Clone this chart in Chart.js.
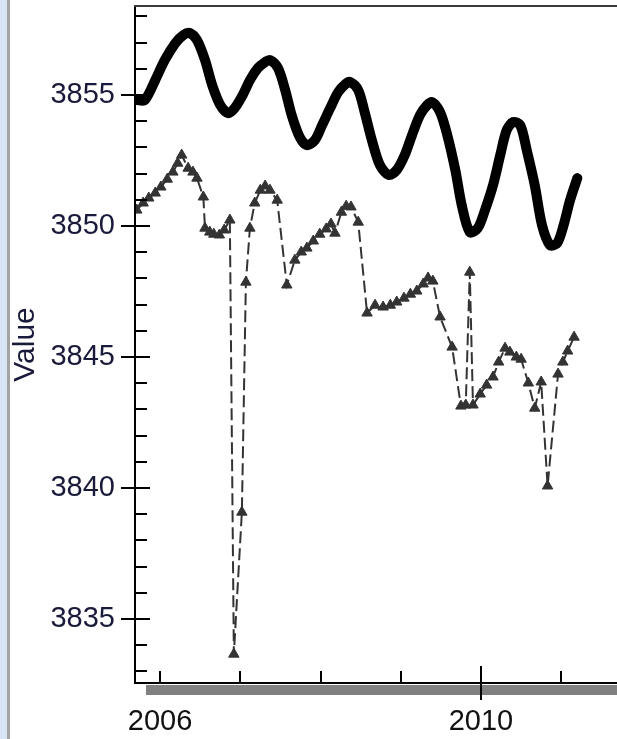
<!DOCTYPE html>
<html>
<head>
<meta charset="utf-8">
<script src="https://cdn.jsdelivr.net/npm/chart.js@4"></script>
<style>
  html, body { margin: 0; padding: 0; background: #ffffff; overflow: hidden; }
  #wrap { position: relative; width: 617px; height: 739px; }
  #strip { position: absolute; left: 0; top: 0; width: 7px; height: 739px; background: #d8e5f4; }
  #edge { position: absolute; left: 7px; top: 0; width: 3px; height: 739px; background: #a3a3a3; }
  canvas { position: absolute; left: 0; top: 0; }
</style>
</head>
<body>
<div id="wrap">
  <canvas id="c" width="617" height="739"></canvas>
  <div id="strip"></div>
  <div id="edge"></div>
</div>
<script>
// Smoothed seasonal model (decimal years / values)
const modelYears = [2005.71, 2005.81, 2005.94, 2006.06, 2006.19, 2006.29, 2006.37, 2006.46, 2006.56, 2006.65,
  2006.75, 2006.85, 2006.93, 2007.03, 2007.12, 2007.22, 2007.31, 2007.37, 2007.47, 2007.56,
  2007.64, 2007.74, 2007.83, 2007.93, 2008.02, 2008.12, 2008.22, 2008.31, 2008.37, 2008.47,
  2008.55, 2008.64, 2008.74, 2008.85, 2008.95, 2009.05, 2009.14, 2009.24, 2009.33, 2009.39,
  2009.49, 2009.58, 2009.68, 2009.76, 2009.86, 2009.96, 2010.05, 2010.15, 2010.24, 2010.32,
  2010.40, 2010.49, 2010.57, 2010.67, 2010.76, 2010.86, 2010.95, 2011.03, 2011.11, 2011.20];
const modelValues = [3854.81, 3854.81, 3855.57, 3856.34, 3856.98, 3857.29, 3857.37, 3857.10, 3856.34, 3855.38,
  3854.62, 3854.31, 3854.50, 3855.00, 3855.57, 3856.03, 3856.26, 3856.34, 3856.03, 3855.19,
  3854.24, 3853.40, 3853.09, 3853.28, 3853.85, 3854.50, 3855.11, 3855.42, 3855.50, 3855.19,
  3854.35, 3853.28, 3852.33, 3851.95, 3852.14, 3852.71, 3853.47, 3854.24, 3854.62, 3854.73,
  3854.35, 3853.47, 3852.14, 3850.80, 3849.77, 3849.92, 3850.61, 3851.56, 3852.71, 3853.66,
  3853.97, 3853.85, 3852.90, 3851.56, 3850.04, 3849.27, 3849.35, 3850.04, 3850.99, 3851.83];

// Observed series (decimal years / values)
const obsYears = [2005.71, 2005.79, 2005.86, 2005.94, 2006.01, 2006.09, 2006.16, 2006.22, 2006.27, 2006.35,
  2006.41, 2006.46, 2006.54, 2006.56, 2006.62, 2006.67, 2006.74, 2006.80, 2006.87, 2006.92,
  2007.02, 2007.07, 2007.12, 2007.18, 2007.25, 2007.31, 2007.37, 2007.46, 2007.58, 2007.68,
  2007.76, 2007.83, 2007.91, 2007.99, 2008.07, 2008.13, 2008.18, 2008.26, 2008.32, 2008.38,
  2008.47, 2008.58, 2008.68, 2008.78, 2008.87, 2008.95, 2009.04, 2009.12, 2009.20, 2009.28,
  2009.34, 2009.40, 2009.49, 2009.64, 2009.75, 2009.81, 2009.86, 2009.90, 2009.99, 2010.07,
  2010.15, 2010.22, 2010.30, 2010.36, 2010.44, 2010.50, 2010.59, 2010.67, 2010.75, 2010.83,
  2010.96, 2011.02, 2011.08, 2011.16];
const obsValues = [3850.61, 3850.88, 3851.07, 3851.26, 3851.49, 3851.79, 3852.06, 3852.40, 3852.71, 3852.21,
  3852.06, 3851.83, 3851.11, 3849.92, 3849.77, 3849.69, 3849.66, 3849.85, 3850.23, 3833.66,
  3839.08, 3847.86, 3849.92, 3850.88, 3851.37, 3851.53, 3851.37, 3850.99, 3847.75, 3848.70,
  3849.01, 3849.16, 3849.43, 3849.69, 3849.89, 3850.08, 3849.73, 3850.53, 3850.76, 3850.73,
  3850.15, 3846.68, 3846.98, 3846.91, 3846.98, 3847.10, 3847.25, 3847.40, 3847.52, 3847.79,
  3848.02, 3847.90, 3846.53, 3845.38, 3843.13, 3843.17, 3848.24, 3843.17, 3843.59, 3843.93,
  3844.24, 3844.81, 3845.34, 3845.19, 3845.00, 3844.92, 3844.01, 3843.05, 3844.05, 3840.08,
  3844.35, 3844.81, 3845.23, 3845.76];

// Axis ranges and labelled ticks
const yearRange = [2005.688, 2011.695];
const valueRange = [3832.56, 3858.40];
const yearLabels = [2006, 2010];
const valueLabelStep = 5;

const FONT = '"Liberation Sans", Arial, sans-serif';

const toPoints = (xs, ys) => xs.map((x, i) => ({ x: x, y: ys[i] }));

// Axis lines, inner tick marks and the gray base bar
const axisDecor = {
  id: 'axisDecor',
  afterDraw(chart) {
    const { ctx, chartArea: a, scales } = chart;
    const xs = scales.x, ys = scales.y;
    ctx.save();
    // gray bar under the time axis
    ctx.fillStyle = '#808080';
    ctx.fillRect(146, a.bottom + 2, chart.width - 146, 10);
    // frame: left and bottom axis lines, top edge
    ctx.strokeStyle = '#000';
    ctx.lineWidth = 2;
    ctx.beginPath();
    ctx.moveTo(a.left, a.top); ctx.lineTo(a.left, a.bottom + 1);
    ctx.moveTo(a.left - 1, a.bottom); ctx.lineTo(chart.width, a.bottom);
    ctx.stroke();
    ctx.strokeStyle = '#3a3a3a';
    ctx.beginPath();
    ctx.moveTo(a.left - 1, a.top); ctx.lineTo(chart.width, a.top);
    ctx.stroke();
    // value ticks: short inner marks, long crossing marks at labelled values
    ctx.strokeStyle = '#000';
    ctx.lineWidth = 2;
    ctx.beginPath();
    ys.ticks.forEach(t => {
      const y = Math.round(ys.getPixelForValue(t.value));
      if (y <= a.top + 2 || y >= a.bottom - 1) return;
      if (Math.round(t.value) % valueLabelStep === 0) {
        ctx.moveTo(a.left - 14, y); ctx.lineTo(a.left + 15, y);
      } else {
        ctx.moveTo(a.left, y); ctx.lineTo(a.left + 12, y);
      }
    });
    // year ticks
    xs.ticks.forEach(t => {
      const x = Math.round(xs.getPixelForValue(t.value));
      if (x <= a.left || x >= chart.width) return;
      if (t.value === yearLabels[1]) {
        ctx.moveTo(x, a.bottom - 17); ctx.lineTo(x, a.bottom + 17);
      } else {
        ctx.moveTo(x, a.bottom - 12); ctx.lineTo(x, a.bottom);
      }
    });
    ctx.stroke();
    ctx.restore();
  }
};

new Chart(document.getElementById('c'), {
  type: 'line',
  data: {
    datasets: [
      {
        label: 'Observed',
        data: toPoints(obsYears, obsValues),
        borderColor: '#333333',
        borderWidth: 2,
        borderDash: [12, 5],
        pointStyle: 'triangle',
        pointRadius: 6,
        pointBackgroundColor: '#333333',
        pointBorderColor: '#333333',
        pointBorderWidth: 1,
        tension: 0,
        fill: false
      },
      {
        label: 'Model',
        data: toPoints(modelYears, modelValues),
        borderColor: '#000000',
        borderWidth: 10,
        pointRadius: 0,
        tension: 0.3,
        borderCapStyle: 'round',
        borderJoinStyle: 'round',
        fill: false
      }
    ]
  },
  options: {
    responsive: false,
    animation: false,
    layout: { autoPadding: false, padding: { top: 6, right: 0, bottom: 0, left: 0 } },
    plugins: { legend: { display: false }, tooltip: { enabled: false } },
    scales: {
      x: {
        type: 'linear',
        min: yearRange[0],
        max: yearRange[1],
        afterFit(s) { s.height = 56; s.paddingLeft = 0; s.paddingRight = 0; },
        grid: { display: false, drawTicks: false },
        border: { display: false },
        ticks: {
          stepSize: 1,
          includeBounds: false,
          autoSkip: false,
          maxRotation: 0,
          padding: 22,
          color: '#111111',
          font: { family: FONT, size: 29 },
          callback: v => yearLabels.includes(Math.round(v * 1000) / 1000) ? String(v) : ''
        }
      },
      y: {
        type: 'linear',
        min: valueRange[0],
        max: valueRange[1],
        afterFit(s) { s.width = 135; s.paddingTop = 0; s.paddingBottom = 0; },
        grid: { display: false, drawTicks: false },
        border: { display: false },
        title: {
          display: true,
          text: 'Value',
          color: '#1a1a3a',
          font: { family: FONT, size: 30 },
          padding: { top: 8, bottom: 0 }
        },
        ticks: {
          stepSize: 1,
          includeBounds: false,
          autoSkip: false,
          padding: 20,
          color: '#1a1a3a',
          font: { family: FONT, size: 29 },
          callback: v => (Math.round(v) % valueLabelStep === 0) ? String(Math.round(v)) : ''
        }
      }
    }
  },
  plugins: [axisDecor]
});
</script>
</body>
</html>
